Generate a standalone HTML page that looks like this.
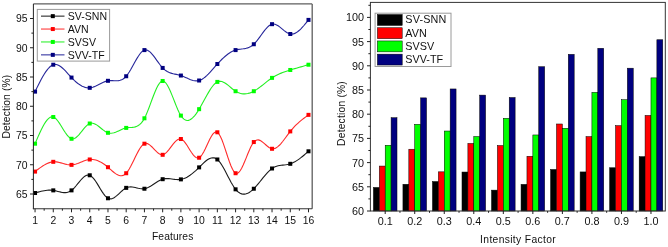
<!DOCTYPE html>
<html><head><meta charset="utf-8"><style>
html,body{margin:0;padding:0;background:#fff;}
svg{display:block;}
text{font-family:"Liberation Sans", sans-serif;font-size:10.3px;fill:#111;}
svg{will-change:transform;}
text.l{font-size:10.4px;}
text.r{font-size:10.8px;}
</style></head><body>
<svg width="668" height="247" viewBox="0 0 668 247">
<rect width="668" height="247" fill="#fff"/>
<line x1="33.4" y1="3.9" x2="312.2" y2="3.9" stroke="#5e5e5e" stroke-width="1.3"/>
<line x1="312.2" y1="3.9" x2="312.2" y2="208.7" stroke="#5e5e5e" stroke-width="1.3"/>
<path d="M35.05,193.01 L36.57,192.56 L38.09,192.13 L39.61,191.71 L41.13,191.32 L42.65,190.97 L44.16,190.67 L45.68,190.43 L47.20,190.25 L48.72,190.14 L50.24,190.12 L51.76,190.19 L53.28,190.37 L54.80,190.66 L56.32,191.01 L57.84,191.41 L59.36,191.80 L60.88,192.16 L62.39,192.44 L63.91,192.60 L65.43,192.62 L66.95,192.44 L68.47,192.03 L69.99,191.35 L71.51,190.37 L73.03,189.07 L74.55,187.51 L76.07,185.76 L77.59,183.92 L79.11,182.05 L80.62,180.25 L82.14,178.59 L83.66,177.16 L85.18,176.03 L86.70,175.28 L88.22,175.01 L89.74,175.28 L91.26,176.15 L92.78,177.55 L94.30,179.37 L95.82,181.52 L97.34,183.90 L98.85,186.39 L100.37,188.91 L101.89,191.35 L103.41,193.60 L104.93,195.58 L106.45,197.17 L107.97,198.27 L109.49,198.82 L111.01,198.86 L112.53,198.46 L114.05,197.70 L115.57,196.67 L117.09,195.42 L118.60,194.05 L120.12,192.62 L121.64,191.21 L123.16,189.89 L124.68,188.75 L126.20,187.86 L127.72,187.27 L129.24,186.96 L130.76,186.88 L132.28,186.98 L133.80,187.21 L135.31,187.54 L136.83,187.91 L138.35,188.27 L139.87,188.58 L141.39,188.80 L142.91,188.86 L144.43,188.73 L145.95,188.38 L147.47,187.82 L148.99,187.10 L150.51,186.25 L152.03,185.30 L153.55,184.30 L155.06,183.28 L156.58,182.28 L158.10,181.34 L159.62,180.48 L161.14,179.76 L162.66,179.20 L164.18,178.83 L165.70,178.64 L167.22,178.58 L168.74,178.64 L170.26,178.78 L171.77,178.96 L173.29,179.17 L174.81,179.36 L176.33,179.51 L177.85,179.58 L179.37,179.54 L180.89,179.38 L182.41,179.05 L183.93,178.56 L185.45,177.93 L186.97,177.16 L188.49,176.26 L190.00,175.26 L191.52,174.14 L193.04,172.94 L194.56,171.65 L196.08,170.29 L197.60,168.86 L199.12,167.38 L200.64,165.87 L202.16,164.36 L203.68,162.90 L205.20,161.54 L206.72,160.31 L208.24,159.27 L209.75,158.46 L211.27,157.93 L212.79,157.72 L214.31,157.88 L215.83,158.45 L217.35,159.48 L218.87,161.00 L220.39,162.94 L221.91,165.24 L223.43,167.81 L224.95,170.58 L226.47,173.48 L227.98,176.44 L229.50,179.36 L231.02,182.19 L232.54,184.84 L234.06,187.25 L235.58,189.32 L237.10,191.01 L238.62,192.32 L240.14,193.26 L241.66,193.86 L243.18,194.14 L244.69,194.12 L246.21,193.81 L247.73,193.24 L249.25,192.43 L250.77,191.40 L252.29,190.16 L253.81,188.73 L255.33,187.15 L256.85,185.44 L258.37,183.62 L259.89,181.75 L261.41,179.84 L262.93,177.94 L264.44,176.08 L265.96,174.29 L267.48,172.60 L269.00,171.05 L270.52,169.67 L272.04,168.49 L273.56,167.55 L275.08,166.81 L276.60,166.24 L278.12,165.82 L279.64,165.51 L281.15,165.28 L282.67,165.10 L284.19,164.93 L285.71,164.76 L287.23,164.53 L288.75,164.23 L290.27,163.81 L291.79,163.27 L293.31,162.59 L294.83,161.80 L296.35,160.90 L297.87,159.90 L299.38,158.83 L300.90,157.68 L302.42,156.47 L303.94,155.22 L305.46,153.93 L306.98,152.62 L308.50,151.30" fill="none" stroke="#1a1a1a" stroke-width="1.1"/>
<rect x="33.05" y="191.01" width="4" height="4" fill="#000000"/>
<rect x="51.28" y="188.37" width="4" height="4" fill="#000000"/>
<rect x="69.51" y="188.37" width="4" height="4" fill="#000000"/>
<rect x="87.74" y="173.28" width="4" height="4" fill="#000000"/>
<rect x="105.97" y="196.27" width="4" height="4" fill="#000000"/>
<rect x="124.20" y="185.86" width="4" height="4" fill="#000000"/>
<rect x="142.43" y="186.73" width="4" height="4" fill="#000000"/>
<rect x="160.66" y="177.20" width="4" height="4" fill="#000000"/>
<rect x="178.89" y="177.38" width="4" height="4" fill="#000000"/>
<rect x="197.12" y="165.38" width="4" height="4" fill="#000000"/>
<rect x="215.35" y="157.48" width="4" height="4" fill="#000000"/>
<rect x="233.58" y="187.32" width="4" height="4" fill="#000000"/>
<rect x="251.81" y="186.73" width="4" height="4" fill="#000000"/>
<rect x="270.04" y="166.49" width="4" height="4" fill="#000000"/>
<rect x="288.27" y="161.81" width="4" height="4" fill="#000000"/>
<rect x="306.50" y="149.30" width="4" height="4" fill="#000000"/>
<path d="M35.05,171.59 L36.57,170.43 L38.09,169.28 L39.61,168.16 L41.13,167.08 L42.65,166.07 L44.16,165.12 L45.68,164.27 L47.20,163.51 L48.72,162.88 L50.24,162.38 L51.76,162.02 L53.28,161.82 L54.80,161.80 L56.32,161.92 L57.84,162.16 L59.36,162.49 L60.88,162.88 L62.39,163.30 L63.91,163.72 L65.43,164.12 L66.95,164.46 L68.47,164.72 L69.99,164.87 L71.51,164.87 L73.03,164.71 L74.55,164.40 L76.07,163.98 L77.59,163.47 L79.11,162.90 L80.62,162.30 L82.14,161.69 L83.66,161.10 L85.18,160.55 L86.70,160.08 L88.22,159.72 L89.74,159.48 L91.26,159.40 L92.78,159.47 L94.30,159.69 L95.82,160.04 L97.34,160.53 L98.85,161.15 L100.37,161.89 L101.89,162.74 L103.41,163.71 L104.93,164.78 L106.45,165.95 L107.97,167.21 L109.49,168.55 L111.01,169.92 L112.53,171.26 L114.05,172.53 L115.57,173.67 L117.09,174.61 L118.60,175.32 L120.12,175.72 L121.64,175.77 L123.16,175.40 L124.68,174.58 L126.20,173.23 L127.72,171.34 L129.24,168.98 L130.76,166.26 L132.28,163.30 L133.80,160.19 L135.31,157.06 L136.83,154.00 L138.35,151.13 L139.87,148.55 L141.39,146.38 L142.91,144.73 L144.43,143.69 L145.95,143.35 L147.47,143.62 L148.99,144.39 L150.51,145.55 L152.03,146.98 L153.55,148.56 L155.06,150.18 L156.58,151.72 L158.10,153.07 L159.62,154.11 L161.14,154.73 L162.66,154.80 L164.18,154.27 L165.70,153.20 L167.22,151.71 L168.74,149.92 L170.26,147.95 L171.77,145.92 L173.29,143.94 L174.81,142.13 L176.33,140.62 L177.85,139.52 L179.37,138.94 L180.89,139.01 L182.41,139.80 L183.93,141.21 L185.45,143.10 L186.97,145.31 L188.49,147.72 L190.00,150.17 L191.52,152.52 L193.04,154.62 L194.56,156.34 L196.08,157.53 L197.60,158.04 L199.12,157.73 L200.64,156.51 L202.16,154.51 L203.68,151.92 L205.20,148.92 L206.72,145.69 L208.24,142.42 L209.75,139.30 L211.27,136.50 L212.79,134.21 L214.31,132.63 L215.83,131.92 L217.35,132.28 L218.87,133.83 L220.39,136.41 L221.91,139.83 L223.43,143.87 L224.95,148.31 L226.47,152.96 L227.98,157.59 L229.50,162.00 L231.02,165.99 L232.54,169.32 L234.06,171.81 L235.58,173.23 L237.10,173.45 L238.62,172.56 L240.14,170.76 L241.66,168.21 L243.18,165.09 L244.69,161.57 L246.21,157.84 L247.73,154.06 L249.25,150.42 L250.77,147.09 L252.29,144.24 L253.81,142.05 L255.33,140.65 L256.85,139.98 L258.37,139.92 L259.89,140.37 L261.41,141.20 L262.93,142.33 L264.44,143.62 L265.96,144.97 L267.48,146.28 L269.00,147.42 L270.52,148.29 L272.04,148.78 L273.56,148.80 L275.08,148.38 L276.60,147.58 L278.12,146.43 L279.64,145.01 L281.15,143.34 L282.67,141.50 L284.19,139.53 L285.71,137.48 L287.23,135.41 L288.75,133.37 L290.27,131.40 L291.79,129.56 L293.31,127.84 L294.83,126.23 L296.35,124.71 L297.87,123.29 L299.38,121.94 L300.90,120.66 L302.42,119.43 L303.94,118.25 L305.46,117.10 L306.98,115.97 L308.50,114.85" fill="none" stroke="#ff2a2a" stroke-width="1.1"/>
<rect x="33.05" y="169.59" width="4" height="4" fill="#ff0000"/>
<rect x="51.28" y="159.82" width="4" height="4" fill="#ff0000"/>
<rect x="69.51" y="162.87" width="4" height="4" fill="#ff0000"/>
<rect x="87.74" y="157.48" width="4" height="4" fill="#ff0000"/>
<rect x="105.97" y="165.21" width="4" height="4" fill="#ff0000"/>
<rect x="124.20" y="171.23" width="4" height="4" fill="#ff0000"/>
<rect x="142.43" y="141.69" width="4" height="4" fill="#ff0000"/>
<rect x="160.66" y="152.80" width="4" height="4" fill="#ff0000"/>
<rect x="178.89" y="137.01" width="4" height="4" fill="#ff0000"/>
<rect x="197.12" y="155.73" width="4" height="4" fill="#ff0000"/>
<rect x="215.35" y="130.28" width="4" height="4" fill="#ff0000"/>
<rect x="233.58" y="171.23" width="4" height="4" fill="#ff0000"/>
<rect x="251.81" y="140.05" width="4" height="4" fill="#ff0000"/>
<rect x="270.04" y="146.78" width="4" height="4" fill="#ff0000"/>
<rect x="288.27" y="129.40" width="4" height="4" fill="#ff0000"/>
<rect x="306.50" y="112.85" width="4" height="4" fill="#ff0000"/>
<path d="M35.05,143.69 L36.57,140.13 L38.09,136.62 L39.61,133.23 L41.13,130.00 L42.65,127.00 L44.16,124.28 L45.68,121.90 L47.20,119.91 L48.72,118.37 L50.24,117.34 L51.76,116.87 L53.28,117.01 L54.80,117.81 L56.32,119.17 L57.84,120.97 L59.36,123.11 L60.88,125.48 L62.39,127.95 L63.91,130.42 L65.43,132.78 L66.95,134.90 L68.47,136.69 L69.99,138.02 L71.51,138.78 L73.03,138.89 L74.55,138.42 L76.07,137.47 L77.59,136.14 L79.11,134.52 L80.62,132.72 L82.14,130.82 L83.66,128.94 L85.18,127.17 L86.70,125.61 L88.22,124.35 L89.74,123.51 L91.26,123.14 L92.78,123.21 L94.30,123.65 L95.82,124.38 L97.34,125.35 L98.85,126.48 L100.37,127.71 L101.89,128.95 L103.41,130.16 L104.93,131.25 L106.45,132.15 L107.97,132.81 L109.49,133.16 L111.01,133.24 L112.53,133.08 L114.05,132.73 L115.57,132.22 L117.09,131.60 L118.60,130.91 L120.12,130.20 L121.64,129.50 L123.16,128.85 L124.68,128.30 L126.20,127.90 L127.72,127.65 L129.24,127.52 L130.76,127.44 L132.28,127.35 L133.80,127.18 L135.31,126.86 L136.83,126.34 L138.35,125.54 L139.87,124.40 L141.39,122.86 L142.91,120.85 L144.43,118.30 L145.95,115.19 L147.47,111.61 L148.99,107.72 L150.51,103.64 L152.03,99.51 L153.55,95.48 L155.06,91.68 L156.58,88.24 L158.10,85.32 L159.62,83.04 L161.14,81.55 L162.66,80.98 L164.18,81.42 L165.70,82.79 L167.22,84.93 L168.74,87.71 L170.26,90.97 L171.77,94.59 L173.29,98.41 L174.81,102.29 L176.33,106.10 L177.85,109.68 L179.37,112.90 L180.89,115.61 L182.41,117.70 L183.93,119.18 L185.45,120.09 L186.97,120.47 L188.49,120.36 L190.00,119.79 L191.52,118.82 L193.04,117.47 L194.56,115.80 L196.08,113.83 L197.60,111.61 L199.12,109.17 L200.64,106.57 L202.16,103.85 L203.68,101.07 L205.20,98.27 L206.72,95.52 L208.24,92.86 L209.75,90.35 L211.27,88.04 L212.79,85.99 L214.31,84.25 L215.83,82.87 L217.35,81.91 L218.87,81.41 L220.39,81.31 L221.91,81.58 L223.43,82.16 L224.95,82.98 L226.47,84.01 L227.98,85.17 L229.50,86.42 L231.02,87.71 L232.54,88.97 L234.06,90.16 L235.58,91.22 L237.10,92.09 L238.62,92.79 L240.14,93.32 L241.66,93.68 L243.18,93.87 L244.69,93.91 L246.21,93.80 L247.73,93.55 L249.25,93.15 L250.77,92.63 L252.29,91.98 L253.81,91.22 L255.33,90.34 L256.85,89.36 L258.37,88.30 L259.89,87.18 L261.41,86.02 L262.93,84.82 L264.44,83.60 L265.96,82.39 L267.48,81.19 L269.00,80.03 L270.52,78.92 L272.04,77.88 L273.56,76.91 L275.08,76.03 L276.60,75.21 L278.12,74.46 L279.64,73.76 L281.15,73.12 L282.67,72.52 L284.19,71.96 L285.71,71.43 L287.23,70.93 L288.75,70.45 L290.27,69.98 L291.79,69.52 L293.31,69.06 L294.83,68.61 L296.35,68.17 L297.87,67.73 L299.38,67.29 L300.90,66.85 L302.42,66.42 L303.94,65.99 L305.46,65.57 L306.98,65.14 L308.50,64.72" fill="none" stroke="#22f022" stroke-width="1.1"/>
<rect x="33.05" y="141.69" width="4" height="4" fill="#00ff00"/>
<rect x="51.28" y="115.01" width="4" height="4" fill="#00ff00"/>
<rect x="69.51" y="136.78" width="4" height="4" fill="#00ff00"/>
<rect x="87.74" y="121.51" width="4" height="4" fill="#00ff00"/>
<rect x="105.97" y="130.81" width="4" height="4" fill="#00ff00"/>
<rect x="124.20" y="125.90" width="4" height="4" fill="#00ff00"/>
<rect x="142.43" y="116.30" width="4" height="4" fill="#00ff00"/>
<rect x="160.66" y="78.98" width="4" height="4" fill="#00ff00"/>
<rect x="178.89" y="113.61" width="4" height="4" fill="#00ff00"/>
<rect x="197.12" y="107.17" width="4" height="4" fill="#00ff00"/>
<rect x="215.35" y="79.91" width="4" height="4" fill="#00ff00"/>
<rect x="233.58" y="89.22" width="4" height="4" fill="#00ff00"/>
<rect x="251.81" y="89.22" width="4" height="4" fill="#00ff00"/>
<rect x="270.04" y="75.88" width="4" height="4" fill="#00ff00"/>
<rect x="288.27" y="67.98" width="4" height="4" fill="#00ff00"/>
<rect x="306.50" y="62.72" width="4" height="4" fill="#00ff00"/>
<path d="M35.05,91.62 L36.57,88.52 L38.09,85.45 L39.61,82.45 L41.13,79.56 L42.65,76.81 L44.16,74.25 L45.68,71.90 L47.20,69.81 L48.72,68.01 L50.24,66.54 L51.76,65.43 L53.28,64.72 L54.80,64.43 L56.32,64.53 L57.84,64.98 L59.36,65.74 L60.88,66.76 L62.39,68.00 L63.91,69.41 L65.43,70.95 L66.95,72.59 L68.47,74.27 L69.99,75.95 L71.51,77.58 L73.03,79.14 L74.55,80.61 L76.07,81.97 L77.59,83.21 L79.11,84.33 L80.62,85.31 L82.14,86.15 L83.66,86.83 L85.18,87.35 L86.70,87.70 L88.22,87.86 L89.74,87.82 L91.26,87.59 L92.78,87.19 L94.30,86.64 L95.82,85.99 L97.34,85.26 L98.85,84.49 L100.37,83.71 L101.89,82.96 L103.41,82.26 L104.93,81.64 L106.45,81.15 L107.97,80.80 L109.49,80.63 L111.01,80.59 L112.53,80.63 L114.05,80.71 L115.57,80.76 L117.09,80.74 L118.60,80.60 L120.12,80.28 L121.64,79.74 L123.16,78.92 L124.68,77.77 L126.20,76.24 L127.72,74.30 L129.24,72.03 L130.76,69.50 L132.28,66.80 L133.80,64.04 L135.31,61.29 L136.83,58.64 L138.35,56.18 L139.87,54.01 L141.39,52.21 L142.91,50.88 L144.43,50.09 L145.95,49.91 L147.47,50.30 L148.99,51.17 L150.51,52.45 L152.03,54.05 L153.55,55.91 L155.06,57.93 L156.58,60.06 L158.10,62.19 L159.62,64.27 L161.14,66.21 L162.66,67.93 L164.18,69.38 L165.70,70.56 L167.22,71.52 L168.74,72.29 L170.26,72.89 L171.77,73.37 L173.29,73.76 L174.81,74.10 L176.33,74.41 L177.85,74.73 L179.37,75.09 L180.89,75.54 L182.41,76.08 L183.93,76.71 L185.45,77.39 L186.97,78.08 L188.49,78.77 L190.00,79.40 L191.52,79.96 L193.04,80.42 L194.56,80.73 L196.08,80.87 L197.60,80.81 L199.12,80.51 L200.64,79.96 L202.16,79.17 L203.68,78.16 L205.20,76.97 L206.72,75.62 L208.24,74.14 L209.75,72.56 L211.27,70.90 L212.79,69.19 L214.31,67.45 L215.83,65.72 L217.35,64.01 L218.87,62.36 L220.39,60.78 L221.91,59.26 L223.43,57.83 L224.95,56.48 L226.47,55.23 L227.98,54.07 L229.50,53.03 L231.02,52.10 L232.54,51.30 L234.06,50.62 L235.58,50.09 L237.10,49.69 L238.62,49.41 L240.14,49.19 L241.66,49.01 L243.18,48.82 L244.69,48.59 L246.21,48.28 L247.73,47.86 L249.25,47.28 L250.77,46.51 L252.29,45.51 L253.81,44.24 L255.33,42.69 L256.85,40.89 L258.37,38.92 L259.89,36.85 L261.41,34.73 L262.93,32.63 L264.44,30.62 L265.96,28.76 L267.48,27.13 L269.00,25.77 L270.52,24.77 L272.04,24.17 L273.56,24.04 L275.08,24.32 L276.60,24.93 L278.12,25.81 L279.64,26.89 L281.15,28.09 L282.67,29.35 L284.19,30.60 L285.71,31.75 L287.23,32.75 L288.75,33.53 L290.27,34.00 L291.79,34.12 L293.31,33.91 L294.83,33.39 L296.35,32.58 L297.87,31.54 L299.38,30.28 L300.90,28.83 L302.42,27.23 L303.94,25.51 L305.46,23.69 L306.98,21.81 L308.50,19.90" fill="none" stroke="#26269a" stroke-width="1.1"/>
<rect x="33.05" y="89.62" width="4" height="4" fill="#000080"/>
<rect x="51.28" y="62.72" width="4" height="4" fill="#000080"/>
<rect x="69.51" y="75.58" width="4" height="4" fill="#000080"/>
<rect x="87.74" y="85.82" width="4" height="4" fill="#000080"/>
<rect x="105.97" y="78.80" width="4" height="4" fill="#000080"/>
<rect x="124.20" y="74.24" width="4" height="4" fill="#000080"/>
<rect x="142.43" y="48.09" width="4" height="4" fill="#000080"/>
<rect x="160.66" y="65.93" width="4" height="4" fill="#000080"/>
<rect x="178.89" y="73.54" width="4" height="4" fill="#000080"/>
<rect x="197.12" y="78.51" width="4" height="4" fill="#000080"/>
<rect x="215.35" y="62.01" width="4" height="4" fill="#000080"/>
<rect x="233.58" y="48.09" width="4" height="4" fill="#000080"/>
<rect x="251.81" y="42.24" width="4" height="4" fill="#000080"/>
<rect x="270.04" y="22.17" width="4" height="4" fill="#000080"/>
<rect x="288.27" y="32.00" width="4" height="4" fill="#000080"/>
<rect x="306.50" y="17.90" width="4" height="4" fill="#000080"/>
<line x1="33.4" y1="3.9" x2="33.4" y2="209.2" stroke="#222" stroke-width="1"/>
<line x1="32.9" y1="208.7" x2="312.2" y2="208.7" stroke="#333" stroke-width="1.1"/>
<line x1="30.00" y1="194.00" x2="33.4" y2="194.00" stroke="#222" stroke-width="1"/>
<text class="l" x="27.50" y="197.80" text-anchor="end">65</text>
<line x1="31.40" y1="179.38" x2="33.4" y2="179.38" stroke="#222" stroke-width="1"/>
<line x1="30.00" y1="164.75" x2="33.4" y2="164.75" stroke="#222" stroke-width="1"/>
<text class="l" x="27.50" y="168.55" text-anchor="end">70</text>
<line x1="31.40" y1="150.12" x2="33.4" y2="150.12" stroke="#222" stroke-width="1"/>
<line x1="30.00" y1="135.50" x2="33.4" y2="135.50" stroke="#222" stroke-width="1"/>
<text class="l" x="27.50" y="139.30" text-anchor="end">75</text>
<line x1="31.40" y1="120.88" x2="33.4" y2="120.88" stroke="#222" stroke-width="1"/>
<line x1="30.00" y1="106.25" x2="33.4" y2="106.25" stroke="#222" stroke-width="1"/>
<text class="l" x="27.50" y="110.05" text-anchor="end">80</text>
<line x1="31.40" y1="91.62" x2="33.4" y2="91.62" stroke="#222" stroke-width="1"/>
<line x1="30.00" y1="77.00" x2="33.4" y2="77.00" stroke="#222" stroke-width="1"/>
<text class="l" x="27.50" y="80.80" text-anchor="end">85</text>
<line x1="31.40" y1="62.38" x2="33.4" y2="62.38" stroke="#222" stroke-width="1"/>
<line x1="30.00" y1="47.75" x2="33.4" y2="47.75" stroke="#222" stroke-width="1"/>
<text class="l" x="27.50" y="51.55" text-anchor="end">90</text>
<line x1="31.40" y1="33.12" x2="33.4" y2="33.12" stroke="#222" stroke-width="1"/>
<line x1="30.00" y1="18.50" x2="33.4" y2="18.50" stroke="#222" stroke-width="1"/>
<text class="l" x="27.50" y="22.30" text-anchor="end">95</text>
<line x1="35.05" y1="208.7" x2="35.05" y2="212.30" stroke="#222" stroke-width="1"/>
<text class="l" x="35.05" y="223.8" text-anchor="middle">1</text>
<line x1="44.16" y1="208.7" x2="44.16" y2="210.70" stroke="#222" stroke-width="1"/>
<line x1="53.28" y1="208.7" x2="53.28" y2="212.30" stroke="#222" stroke-width="1"/>
<text class="l" x="53.28" y="223.8" text-anchor="middle">2</text>
<line x1="62.39" y1="208.7" x2="62.39" y2="210.70" stroke="#222" stroke-width="1"/>
<line x1="71.51" y1="208.7" x2="71.51" y2="212.30" stroke="#222" stroke-width="1"/>
<text class="l" x="71.51" y="223.8" text-anchor="middle">3</text>
<line x1="80.62" y1="208.7" x2="80.62" y2="210.70" stroke="#222" stroke-width="1"/>
<line x1="89.74" y1="208.7" x2="89.74" y2="212.30" stroke="#222" stroke-width="1"/>
<text class="l" x="89.74" y="223.8" text-anchor="middle">4</text>
<line x1="98.85" y1="208.7" x2="98.85" y2="210.70" stroke="#222" stroke-width="1"/>
<line x1="107.97" y1="208.7" x2="107.97" y2="212.30" stroke="#222" stroke-width="1"/>
<text class="l" x="107.97" y="223.8" text-anchor="middle">5</text>
<line x1="117.08" y1="208.7" x2="117.08" y2="210.70" stroke="#222" stroke-width="1"/>
<line x1="126.20" y1="208.7" x2="126.20" y2="212.30" stroke="#222" stroke-width="1"/>
<text class="l" x="126.20" y="223.8" text-anchor="middle">6</text>
<line x1="135.31" y1="208.7" x2="135.31" y2="210.70" stroke="#222" stroke-width="1"/>
<line x1="144.43" y1="208.7" x2="144.43" y2="212.30" stroke="#222" stroke-width="1"/>
<text class="l" x="144.43" y="223.8" text-anchor="middle">7</text>
<line x1="153.55" y1="208.7" x2="153.55" y2="210.70" stroke="#222" stroke-width="1"/>
<line x1="162.66" y1="208.7" x2="162.66" y2="212.30" stroke="#222" stroke-width="1"/>
<text class="l" x="162.66" y="223.8" text-anchor="middle">8</text>
<line x1="171.77" y1="208.7" x2="171.77" y2="210.70" stroke="#222" stroke-width="1"/>
<line x1="180.89" y1="208.7" x2="180.89" y2="212.30" stroke="#222" stroke-width="1"/>
<text class="l" x="180.89" y="223.8" text-anchor="middle">9</text>
<line x1="190.00" y1="208.7" x2="190.00" y2="210.70" stroke="#222" stroke-width="1"/>
<line x1="199.12" y1="208.7" x2="199.12" y2="212.30" stroke="#222" stroke-width="1"/>
<text class="l" x="199.12" y="223.8" text-anchor="middle">10</text>
<line x1="208.24" y1="208.7" x2="208.24" y2="210.70" stroke="#222" stroke-width="1"/>
<line x1="217.35" y1="208.7" x2="217.35" y2="212.30" stroke="#222" stroke-width="1"/>
<text class="l" x="217.35" y="223.8" text-anchor="middle">11</text>
<line x1="226.46" y1="208.7" x2="226.46" y2="210.70" stroke="#222" stroke-width="1"/>
<line x1="235.58" y1="208.7" x2="235.58" y2="212.30" stroke="#222" stroke-width="1"/>
<text class="l" x="235.58" y="223.8" text-anchor="middle">12</text>
<line x1="244.69" y1="208.7" x2="244.69" y2="210.70" stroke="#222" stroke-width="1"/>
<line x1="253.81" y1="208.7" x2="253.81" y2="212.30" stroke="#222" stroke-width="1"/>
<text class="l" x="253.81" y="223.8" text-anchor="middle">13</text>
<line x1="262.93" y1="208.7" x2="262.93" y2="210.70" stroke="#222" stroke-width="1"/>
<line x1="272.04" y1="208.7" x2="272.04" y2="212.30" stroke="#222" stroke-width="1"/>
<text class="l" x="272.04" y="223.8" text-anchor="middle">14</text>
<line x1="281.16" y1="208.7" x2="281.16" y2="210.70" stroke="#222" stroke-width="1"/>
<line x1="290.27" y1="208.7" x2="290.27" y2="212.30" stroke="#222" stroke-width="1"/>
<text class="l" x="290.27" y="223.8" text-anchor="middle">15</text>
<line x1="299.38" y1="208.7" x2="299.38" y2="210.70" stroke="#222" stroke-width="1"/>
<line x1="308.50" y1="208.7" x2="308.50" y2="212.30" stroke="#222" stroke-width="1"/>
<text class="l" x="308.50" y="223.8" text-anchor="middle">16</text>
<text x="172.6" y="239.9" text-anchor="middle" textLength="41.4">Features</text>
<text transform="translate(9.9,106.7) rotate(-90)" text-anchor="middle" textLength="63.8">Detection (%)</text>
<rect x="37.3" y="9.4" width="72.3" height="51.7" fill="#fff" stroke="#9a9a9a" stroke-width="1"/>
<line x1="41" y1="16.15" x2="64.5" y2="16.15" stroke="#1a1a1a" stroke-width="1.2" opacity="0.85"/>
<rect x="50.80" y="14.15" width="4" height="4" fill="#000000"/>
<text style="font-size:10.55px" x="67.8" y="19.85">SV-SNN</text>
<line x1="41" y1="29.05" x2="64.5" y2="29.05" stroke="#ff2a2a" stroke-width="1.2" opacity="0.85"/>
<rect x="50.80" y="27.05" width="4" height="4" fill="#ff0000"/>
<text style="font-size:10.55px" x="67.8" y="32.75">AVN</text>
<line x1="41" y1="41.95" x2="64.5" y2="41.95" stroke="#22f022" stroke-width="1.2" opacity="0.85"/>
<rect x="50.80" y="39.95" width="4" height="4" fill="#00ff00"/>
<text style="font-size:10.55px" x="67.8" y="45.65">SVSV</text>
<line x1="41" y1="54.85" x2="64.5" y2="54.85" stroke="#26269a" stroke-width="1.2" opacity="0.85"/>
<rect x="50.80" y="52.85" width="4" height="4" fill="#000080"/>
<text style="font-size:10.55px" x="67.8" y="58.55">SVV-TF</text>
<rect x="373.40" y="187.46" width="5.9" height="23.54" fill="#000000" stroke="#000" stroke-width="0.5"/>
<rect x="379.30" y="166.06" width="5.9" height="44.94" fill="#ff0000" stroke="#000" stroke-width="0.5"/>
<rect x="385.20" y="145.29" width="5.9" height="65.71" fill="#00ff00" stroke="#000" stroke-width="0.5"/>
<rect x="391.10" y="117.73" width="5.9" height="93.27" fill="#000080" stroke="#000" stroke-width="0.5"/>
<rect x="402.93" y="184.26" width="5.9" height="26.74" fill="#000000" stroke="#000" stroke-width="0.5"/>
<rect x="408.83" y="149.22" width="5.9" height="61.78" fill="#ff0000" stroke="#000" stroke-width="0.5"/>
<rect x="414.73" y="124.33" width="5.9" height="86.67" fill="#00ff00" stroke="#000" stroke-width="0.5"/>
<rect x="420.63" y="97.88" width="5.9" height="113.12" fill="#000080" stroke="#000" stroke-width="0.5"/>
<rect x="432.46" y="181.54" width="5.9" height="29.46" fill="#000000" stroke="#000" stroke-width="0.5"/>
<rect x="438.36" y="171.84" width="5.9" height="39.16" fill="#ff0000" stroke="#000" stroke-width="0.5"/>
<rect x="444.26" y="131.03" width="5.9" height="79.97" fill="#00ff00" stroke="#000" stroke-width="0.5"/>
<rect x="450.16" y="88.96" width="5.9" height="122.04" fill="#000080" stroke="#000" stroke-width="0.5"/>
<rect x="461.99" y="172.03" width="5.9" height="38.97" fill="#000000" stroke="#000" stroke-width="0.5"/>
<rect x="467.89" y="143.45" width="5.9" height="67.55" fill="#ff0000" stroke="#000" stroke-width="0.5"/>
<rect x="473.79" y="136.51" width="5.9" height="74.49" fill="#00ff00" stroke="#000" stroke-width="0.5"/>
<rect x="479.69" y="95.12" width="5.9" height="115.88" fill="#000080" stroke="#000" stroke-width="0.5"/>
<rect x="491.52" y="190.13" width="5.9" height="20.87" fill="#000000" stroke="#000" stroke-width="0.5"/>
<rect x="497.42" y="145.54" width="5.9" height="65.46" fill="#ff0000" stroke="#000" stroke-width="0.5"/>
<rect x="503.32" y="118.31" width="5.9" height="92.69" fill="#00ff00" stroke="#000" stroke-width="0.5"/>
<rect x="509.22" y="97.54" width="5.9" height="113.46" fill="#000080" stroke="#000" stroke-width="0.5"/>
<rect x="521.05" y="184.36" width="5.9" height="26.64" fill="#000000" stroke="#000" stroke-width="0.5"/>
<rect x="526.95" y="156.26" width="5.9" height="54.74" fill="#ff0000" stroke="#000" stroke-width="0.5"/>
<rect x="532.85" y="134.96" width="5.9" height="76.04" fill="#00ff00" stroke="#000" stroke-width="0.5"/>
<rect x="538.75" y="66.73" width="5.9" height="144.27" fill="#000080" stroke="#000" stroke-width="0.5"/>
<rect x="550.58" y="169.46" width="5.9" height="41.54" fill="#000000" stroke="#000" stroke-width="0.5"/>
<rect x="556.48" y="123.99" width="5.9" height="87.01" fill="#ff0000" stroke="#000" stroke-width="0.5"/>
<rect x="562.38" y="128.26" width="5.9" height="82.74" fill="#00ff00" stroke="#000" stroke-width="0.5"/>
<rect x="568.28" y="54.36" width="5.9" height="156.64" fill="#000080" stroke="#000" stroke-width="0.5"/>
<rect x="580.11" y="171.93" width="5.9" height="39.07" fill="#000000" stroke="#000" stroke-width="0.5"/>
<rect x="586.01" y="136.61" width="5.9" height="74.39" fill="#ff0000" stroke="#000" stroke-width="0.5"/>
<rect x="591.91" y="92.35" width="5.9" height="118.65" fill="#00ff00" stroke="#000" stroke-width="0.5"/>
<rect x="597.81" y="48.29" width="5.9" height="162.71" fill="#000080" stroke="#000" stroke-width="0.5"/>
<rect x="609.64" y="167.76" width="5.9" height="43.24" fill="#000000" stroke="#000" stroke-width="0.5"/>
<rect x="615.54" y="125.64" width="5.9" height="85.36" fill="#ff0000" stroke="#000" stroke-width="0.5"/>
<rect x="621.44" y="99.73" width="5.9" height="111.27" fill="#00ff00" stroke="#000" stroke-width="0.5"/>
<rect x="627.34" y="68.19" width="5.9" height="142.81" fill="#000080" stroke="#000" stroke-width="0.5"/>
<rect x="639.17" y="156.65" width="5.9" height="54.35" fill="#000000" stroke="#000" stroke-width="0.5"/>
<rect x="645.07" y="115.45" width="5.9" height="95.55" fill="#ff0000" stroke="#000" stroke-width="0.5"/>
<rect x="650.97" y="77.89" width="5.9" height="133.11" fill="#00ff00" stroke="#000" stroke-width="0.5"/>
<rect x="656.87" y="39.75" width="5.9" height="171.25" fill="#000080" stroke="#000" stroke-width="0.5"/>
<rect x="370.4" y="2.4" width="294.90" height="208.60" fill="none" stroke="#333" stroke-width="1"/>
<line x1="367.00" y1="211.00" x2="370.4" y2="211.00" stroke="#222" stroke-width="1"/>
<text class="r" x="363.90" y="214.90" text-anchor="end">60</text>
<line x1="368.40" y1="198.90" x2="370.4" y2="198.90" stroke="#222" stroke-width="1"/>
<line x1="367.00" y1="186.80" x2="370.4" y2="186.80" stroke="#222" stroke-width="1"/>
<text class="r" x="363.90" y="190.70" text-anchor="end">65</text>
<line x1="368.40" y1="174.70" x2="370.4" y2="174.70" stroke="#222" stroke-width="1"/>
<line x1="367.00" y1="162.60" x2="370.4" y2="162.60" stroke="#222" stroke-width="1"/>
<text class="r" x="363.90" y="166.50" text-anchor="end">70</text>
<line x1="368.40" y1="150.50" x2="370.4" y2="150.50" stroke="#222" stroke-width="1"/>
<line x1="367.00" y1="138.40" x2="370.4" y2="138.40" stroke="#222" stroke-width="1"/>
<text class="r" x="363.90" y="142.30" text-anchor="end">75</text>
<line x1="368.40" y1="126.30" x2="370.4" y2="126.30" stroke="#222" stroke-width="1"/>
<line x1="367.00" y1="114.20" x2="370.4" y2="114.20" stroke="#222" stroke-width="1"/>
<text class="r" x="363.90" y="118.10" text-anchor="end">80</text>
<line x1="368.40" y1="102.10" x2="370.4" y2="102.10" stroke="#222" stroke-width="1"/>
<line x1="367.00" y1="90.00" x2="370.4" y2="90.00" stroke="#222" stroke-width="1"/>
<text class="r" x="363.90" y="93.90" text-anchor="end">85</text>
<line x1="368.40" y1="77.90" x2="370.4" y2="77.90" stroke="#222" stroke-width="1"/>
<line x1="367.00" y1="65.80" x2="370.4" y2="65.80" stroke="#222" stroke-width="1"/>
<text class="r" x="363.90" y="69.70" text-anchor="end">90</text>
<line x1="368.40" y1="53.70" x2="370.4" y2="53.70" stroke="#222" stroke-width="1"/>
<line x1="367.00" y1="41.60" x2="370.4" y2="41.60" stroke="#222" stroke-width="1"/>
<text class="r" x="363.90" y="45.50" text-anchor="end">95</text>
<line x1="368.40" y1="29.50" x2="370.4" y2="29.50" stroke="#222" stroke-width="1"/>
<line x1="367.00" y1="17.40" x2="370.4" y2="17.40" stroke="#222" stroke-width="1"/>
<text class="r" x="363.90" y="21.30" text-anchor="end">100</text>
<line x1="368.40" y1="5.30" x2="370.4" y2="5.30" stroke="#222" stroke-width="1"/>
<line x1="385.20" y1="211.0" x2="385.20" y2="214.00" stroke="#222" stroke-width="1"/>
<text class="r" x="385.20" y="225.2" text-anchor="middle">0.1</text>
<line x1="399.96" y1="211.0" x2="399.96" y2="212.80" stroke="#222" stroke-width="1"/>
<line x1="414.73" y1="211.0" x2="414.73" y2="214.00" stroke="#222" stroke-width="1"/>
<text class="r" x="414.73" y="225.2" text-anchor="middle">0.2</text>
<line x1="429.50" y1="211.0" x2="429.50" y2="212.80" stroke="#222" stroke-width="1"/>
<line x1="444.26" y1="211.0" x2="444.26" y2="214.00" stroke="#222" stroke-width="1"/>
<text class="r" x="444.26" y="225.2" text-anchor="middle">0.3</text>
<line x1="459.02" y1="211.0" x2="459.02" y2="212.80" stroke="#222" stroke-width="1"/>
<line x1="473.79" y1="211.0" x2="473.79" y2="214.00" stroke="#222" stroke-width="1"/>
<text class="r" x="473.79" y="225.2" text-anchor="middle">0.4</text>
<line x1="488.56" y1="211.0" x2="488.56" y2="212.80" stroke="#222" stroke-width="1"/>
<line x1="503.32" y1="211.0" x2="503.32" y2="214.00" stroke="#222" stroke-width="1"/>
<text class="r" x="503.32" y="225.2" text-anchor="middle">0.5</text>
<line x1="518.09" y1="211.0" x2="518.09" y2="212.80" stroke="#222" stroke-width="1"/>
<line x1="532.85" y1="211.0" x2="532.85" y2="214.00" stroke="#222" stroke-width="1"/>
<text class="r" x="532.85" y="225.2" text-anchor="middle">0.6</text>
<line x1="547.62" y1="211.0" x2="547.62" y2="212.80" stroke="#222" stroke-width="1"/>
<line x1="562.38" y1="211.0" x2="562.38" y2="214.00" stroke="#222" stroke-width="1"/>
<text class="r" x="562.38" y="225.2" text-anchor="middle">0.7</text>
<line x1="577.14" y1="211.0" x2="577.14" y2="212.80" stroke="#222" stroke-width="1"/>
<line x1="591.91" y1="211.0" x2="591.91" y2="214.00" stroke="#222" stroke-width="1"/>
<text class="r" x="591.91" y="225.2" text-anchor="middle">0.8</text>
<line x1="606.67" y1="211.0" x2="606.67" y2="212.80" stroke="#222" stroke-width="1"/>
<line x1="621.44" y1="211.0" x2="621.44" y2="214.00" stroke="#222" stroke-width="1"/>
<text class="r" x="621.44" y="225.2" text-anchor="middle">0.9</text>
<line x1="636.20" y1="211.0" x2="636.20" y2="212.80" stroke="#222" stroke-width="1"/>
<line x1="650.97" y1="211.0" x2="650.97" y2="214.00" stroke="#222" stroke-width="1"/>
<text class="r" x="650.97" y="225.2" text-anchor="middle">1.0</text>
<text x="517.9" y="242.7" text-anchor="middle" textLength="75.6">Intensity Factor</text>
<text transform="translate(345.4,113.55) rotate(-90)" text-anchor="middle" textLength="64.7">Detection (%)</text>
<rect x="375.1" y="13.2" width="75.9" height="53.3" fill="#fff" stroke="#9a9a9a" stroke-width="1"/>
<rect x="377.4" y="14.55" width="24.8" height="10.9" fill="#000000" stroke="#000" stroke-width="0.5"/>
<text class="r" x="405.3" y="23.30" textLength="41.0">SV-SNN</text>
<rect x="377.4" y="27.75" width="24.8" height="10.9" fill="#ff0000" stroke="#000" stroke-width="0.5"/>
<text class="r" x="405.3" y="36.50">AVN</text>
<rect x="377.4" y="40.95" width="24.8" height="10.9" fill="#00ff00" stroke="#000" stroke-width="0.5"/>
<text class="r" x="405.3" y="49.70">SVSV</text>
<rect x="377.4" y="54.15" width="24.8" height="10.9" fill="#000080" stroke="#000" stroke-width="0.5"/>
<text class="r" x="405.3" y="62.90">SVV-TF</text>
</svg>
</body></html>
